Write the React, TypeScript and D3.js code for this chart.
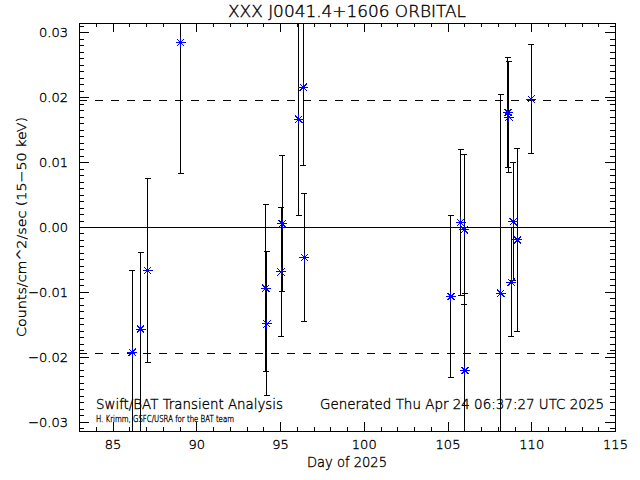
import { useEffect, useRef } from 'react';
import * as d3 from 'd3';

const W = 640;
const H = 480;
const margin = { top: 23, right: 25, bottom: 49, left: 79 };
const INK = '#000000';
const STAR = '#0000ff';
const FONT = '"DejaVu Sans", "Liberation Sans", sans-serif';
const WEIGHT = 200;
const HALO = 0.35;

// day of 2025, rate, upper / lower error
const days = [86.18, 86.68, 87.1, 89.07, 94.15, 94.22, 95.06, 95.14, 96.12, 96.39, 96.45,
  105.2, 105.79, 106.0, 106.04, 108.18, 108.61, 108.67, 108.81, 108.93, 109.17, 110.0];
const rates = [-0.0193, -0.0157, -0.0067, 0.0284, -0.0094, -0.0149, -0.0069, 0.0005, 0.0166, 0.0215, -0.0047,
  -0.0107, 0.0007, -0.0004, -0.0221, -0.0102, 0.0176, 0.0169, -0.0085, 0.0008, -0.002, 0.0197];
const errHi = [0.0126, 0.0118, 0.0142, 0.0201, 0.0129, 0.0111, 0.0099, 0.0105, 0.0148, 0.012, 0.0098,
  0.0125, 0.0112, 0.0115, 0.0119, 0.0306, 0.0085, 0.0085, 0.0084, 0.0091, 0.0141, 0.0084];
const errLo = [0.0126, 0.02, 0.0142, 0.0201, 0.0129, 0.0111, 0.0099, 0.0105, 0.0148, 0.012, 0.0098,
  0.0125, 0.0112, 0.0115, 0.0119, 0.0306, 0.0085, 0.0085, 0.0084, 0.0091, 0.0141, 0.0084];

const xDomain = [83, 115];
const yDomain = [-0.0314, 0.0314];
const xTicks = [85, 90, 95, 100, 105, 110, 115];
const yTicks = [-0.03, -0.02, -0.01, 0, 0.01, 0.02, 0.03];
const limit = 0.0195;

export default function App() {
  const ref = useRef<SVGSVGElement>(null);

  useEffect(() => {
    const svg = d3.select(ref.current);
    if (!svg.node()) return;
    svg.selectAll('*').remove();

    const x0 = margin.left;
    const x1 = W - margin.right;
    const y0 = margin.top;
    const y1 = H - margin.bottom;

    const x = d3.scaleLinear().domain(xDomain).range([x0, x1]);
    const y = d3.scaleLinear().domain(yDomain).range([y1, y0]);

    svg.append('rect').attr('width', W).attr('height', H).attr('fill', '#ffffff');

    svg.append('defs').append('clipPath').attr('id', 'plot-clip')
      .append('rect').attr('x', x0).attr('y', y0).attr('width', x1 - x0).attr('height', y1 - y0);

    const minorX = d3.range(xDomain[0], xDomain[1] + 1, 1);
    const minorY = d3.range(-31, 32).map((v) => v / 1000);

    const style = (sel: d3.Selection<SVGGElement, unknown, null, undefined>) => {
      sel.select('.domain').attr('stroke', INK);
      sel.selectAll('.tick line').attr('stroke', INK);
      sel.selectAll('text').attr('fill', INK).attr('font-size', 13)
        .attr('font-family', FONT).attr('font-weight', WEIGHT)
        .attr('stroke', INK).attr('stroke-width', HALO);
    };

    // bottom
    svg.append('g').attr('transform', `translate(0,${y1})`)
      .call(d3.axisBottom(x).tickValues(minorX).tickSize(-4).tickFormat(() => ''))
      .call(style);
    svg.append('g').attr('transform', `translate(0,${y1})`)
      .call(d3.axisBottom(x).tickValues(xTicks).tickSize(-9).tickPadding(9).tickFormat(d3.format('d')))
      .call(style);
    // top
    svg.append('g').attr('transform', `translate(0,${y0})`)
      .call(d3.axisTop(x).tickValues(minorX).tickSize(-4).tickFormat(() => ''))
      .call(style);
    svg.append('g').attr('transform', `translate(0,${y0})`)
      .call(d3.axisTop(x).tickValues(xTicks).tickSize(-9).tickFormat(() => ''))
      .call(style);
    // left
    svg.append('g').attr('transform', `translate(${x0},0)`)
      .call(d3.axisLeft(y).tickValues(minorY).tickSize(-5).tickFormat(() => ''))
      .call(style);
    svg.append('g').attr('transform', `translate(${x0},0)`)
      .call(d3.axisLeft(y).tickValues(yTicks).tickSize(-10).tickPadding(11)
        .tickFormat((d) => d3.format('.2f')(d as number).replace('-', '\u2212')))
      .call(style);
    // right
    svg.append('g').attr('transform', `translate(${x1},0)`)
      .call(d3.axisRight(y).tickValues(minorY).tickSize(-5).tickFormat(() => ''))
      .call(style);
    svg.append('g').attr('transform', `translate(${x1},0)`)
      .call(d3.axisRight(y).tickValues(yTicks).tickSize(-10).tickFormat(() => ''))
      .call(style);

    const plot = svg.append('g').attr('clip-path', 'url(#plot-clip)');

    plot.append('line')
      .attr('x1', x0).attr('x2', x1).attr('y1', y(0)).attr('y2', y(0))
      .attr('stroke', INK);

    [limit, -limit].forEach((v) => {
      plot.append('line')
        .attr('x1', x0).attr('x2', x1).attr('y1', y(v)).attr('y2', y(v))
        .attr('stroke', INK).attr('stroke-dasharray', '8 8');
    });

    const idx = d3.range(days.length);

    const bars = plot.selectAll('g.err').data(idx).join('g').attr('class', 'err');
    bars.append('line')
      .attr('x1', (i) => x(days[i])).attr('x2', (i) => x(days[i]))
      .attr('y1', (i) => y(rates[i] + errHi[i])).attr('y2', (i) => y(rates[i] - errLo[i]))
      .attr('stroke', INK);
    bars.append('line')
      .attr('x1', (i) => x(days[i]) - 3).attr('x2', (i) => x(days[i]) + 3)
      .attr('y1', (i) => y(rates[i] + errHi[i])).attr('y2', (i) => y(rates[i] + errHi[i]))
      .attr('stroke', INK);
    bars.append('line')
      .attr('x1', (i) => x(days[i]) - 3).attr('x2', (i) => x(days[i]) + 3)
      .attr('y1', (i) => y(rates[i] - errLo[i])).attr('y2', (i) => y(rates[i] - errLo[i]))
      .attr('stroke', INK);

    const r = 5;
    const d = 3.6;
    plot.selectAll('path.star').data(idx).join('path').attr('class', 'star')
      .attr('d', (i) => {
        const cx = x(days[i]);
        const cy = y(rates[i]);
        return `M${cx - r},${cy}H${cx + r}M${cx},${cy - r}V${cy + r}` +
          `M${cx - d},${cy - d}L${cx + d},${cy + d}M${cx - d},${cy + d}L${cx + d},${cy - d}`;
      })
      .attr('stroke', STAR)
      .attr('stroke-width', 1)
      .attr('fill', 'none');

    svg.append('rect')
      .attr('x', x0).attr('y', y0).attr('width', x1 - x0).attr('height', y1 - y0)
      .attr('fill', 'none').attr('stroke', INK);

    const text = (
      tx: number, ty: number, s: string, size: number, anchor = 'start', len?: number,
    ) => {
      const t = svg.append('text')
        .attr('x', tx).attr('y', ty)
        .attr('text-anchor', anchor)
        .attr('font-family', FONT)
        .attr('font-weight', WEIGHT)
        .attr('font-size', size)
        .attr('fill', INK)
        .attr('stroke', INK)
        .attr('stroke-width', HALO)
        .text(s);
      if (len) t.attr('textLength', len).attr('lengthAdjust', 'spacingAndGlyphs');
      return t;
    };

    text((x0 + x1) / 2, 17, 'XXX J0041.4+1606 ORBITAL', 15, 'middle', 238);
    text((x0 + x1) / 2, 467, 'Day of 2025', 14, 'middle', 80);
    text(96, 409, 'Swift/BAT Transient Analysis', 14, 'start', 187);
    text(320, 409, 'Generated Thu Apr 24 06:37:27 UTC 2025', 14, 'start', 284);
    text(96, 422, 'H. Krimm, GSFC/USRA for the BAT team', 9, 'start', 138);

    svg.append('text')
      .attr('transform', `translate(26,${(y0 + y1) / 2}) rotate(-90)`)
      .attr('text-anchor', 'middle')
      .attr('font-family', FONT)
      .attr('font-weight', WEIGHT)
      .attr('font-size', 13)
      .attr('fill', INK)
      .attr('stroke', INK)
      .attr('stroke-width', HALO)
      .attr('textLength', 220)
      .attr('lengthAdjust', 'spacingAndGlyphs')
      .text('Counts/cm^2/sec (15\u221250 keV)');
  }, []);

  return (
    <div style={{ position: 'absolute', left: 0, top: 0 }}>
      <svg ref={ref} width={W} height={H} shapeRendering="crispEdges" />
    </div>
  );
}
